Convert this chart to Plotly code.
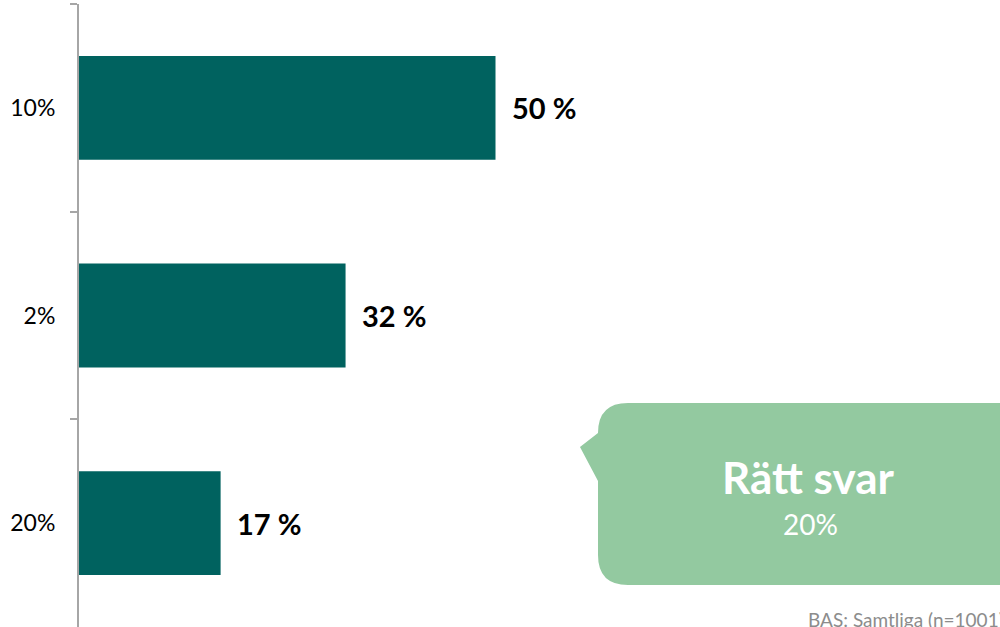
import plotly.graph_objects as go

categories = ["10%", "2%", "20%"]
values = [50, 32, 17]
callout_title = "Rätt svar"
callout_value = "20%"
base_note = "BAS: Samtliga (n=1001)"

W, H = 1000, 627
ML, MR, MT, MB = 79, 0, 4, 0
PW, PH = W - ML - MR, H - MT - MB

def px(x):
    return (x - ML) / PW

def py(y):
    return (H - MB - y) / PH

bar_color = "#00625F"
callout_color = "#93C9A0"
font_family = "Lato, Calibri, Carlito, sans-serif"

fig = go.Figure()
fig.add_trace(go.Bar(
    x=values, y=categories, orientation="h",
    marker=dict(color=bar_color, line=dict(width=0)),
    width=0.5, hoverinfo="skip",
))

annotations = []
for c, v in zip(categories, values):
    annotations.append(dict(
        x=v, y=c, xref="x", yref="y", text=f"<b>{v} %</b>",
        showarrow=False, xanchor="left", yanchor="middle", xshift=14,
        font=dict(size=29, color="#000000", family=font_family),
    ))

# callout bubble
L, R, T, B, r = 598, 1030, 403, 585, 30
path_pts = [
    ("M", px(L + r), py(T)),
    ("L", px(R - r), py(T)),
    ("Q", px(R), py(T), px(R), py(T + r)),
    ("L", px(R), py(B - r)),
    ("Q", px(R), py(B), px(R - r), py(B)),
    ("L", px(L + r), py(B)),
    ("Q", px(L), py(B), px(L), py(B - r)),
    ("L", px(L), py(481)),
    ("L", px(580), py(447)),
    ("L", px(L), py(433)),
    ("L", px(L), py(T + r)),
    ("Q", px(L), py(T), px(L + r), py(T)),
]
path = ""
for seg in path_pts:
    cmd = seg[0]
    coords = seg[1:]
    pairs = [f"{coords[i]:.5f},{coords[i+1]:.5f}" for i in range(0, len(coords), 2)]
    path += cmd + " " + " ".join(pairs) + " "
path += "Z"

shapes = [dict(type="path", xref="paper", yref="paper", path=path,
               fillcolor=callout_color, line=dict(width=0), layer="above")]

annotations += [
    dict(x=px(808), y=py(477), xref="paper", yref="paper", text=f"<b>{callout_title}</b>",
         showarrow=False, xanchor="center", yanchor="middle",
         font=dict(size=44, color="#FFFFFF", family=font_family)),
    dict(x=px(810), y=py(524), xref="paper", yref="paper", text=callout_value,
         showarrow=False, xanchor="center", yanchor="middle",
         font=dict(size=28, color="#FFFFFF", family=font_family)),
    dict(x=px(806), y=py(619), xref="paper", yref="paper", text=base_note,
         showarrow=False, xanchor="left", yanchor="middle",
         font=dict(size=19, color="#8C8C8C", family=font_family)),
]

fig.update_layout(
    width=W, height=H,
    margin=dict(l=ML, r=MR, t=MT, b=MB, pad=0),
    paper_bgcolor="white", plot_bgcolor="white",
    showlegend=False,
    bargap=0.5,
    xaxis=dict(range=[0, PW / 8.33], visible=False, fixedrange=True),
    yaxis=dict(
        type="category", categoryorder="array", categoryarray=categories,
        autorange=False, range=[2.5, -0.5],
        showline=True, linecolor="#A6A6A6", linewidth=2,
        ticks="outside", ticklen=7, tickcolor="#A6A6A6", tickwidth=2,
        tickson="boundaries", showgrid=False, zeroline=False,
        tickfont=dict(size=23, color="#000000", family=font_family),
        ticklabelstandoff=17,
    ),
    shapes=shapes, annotations=annotations,
)

fig.write_html(
    "out.html",
    config={"displayModeBar": False},
    post_script="document.body.style.margin='0';document.body.style.overflow='hidden';",
)
